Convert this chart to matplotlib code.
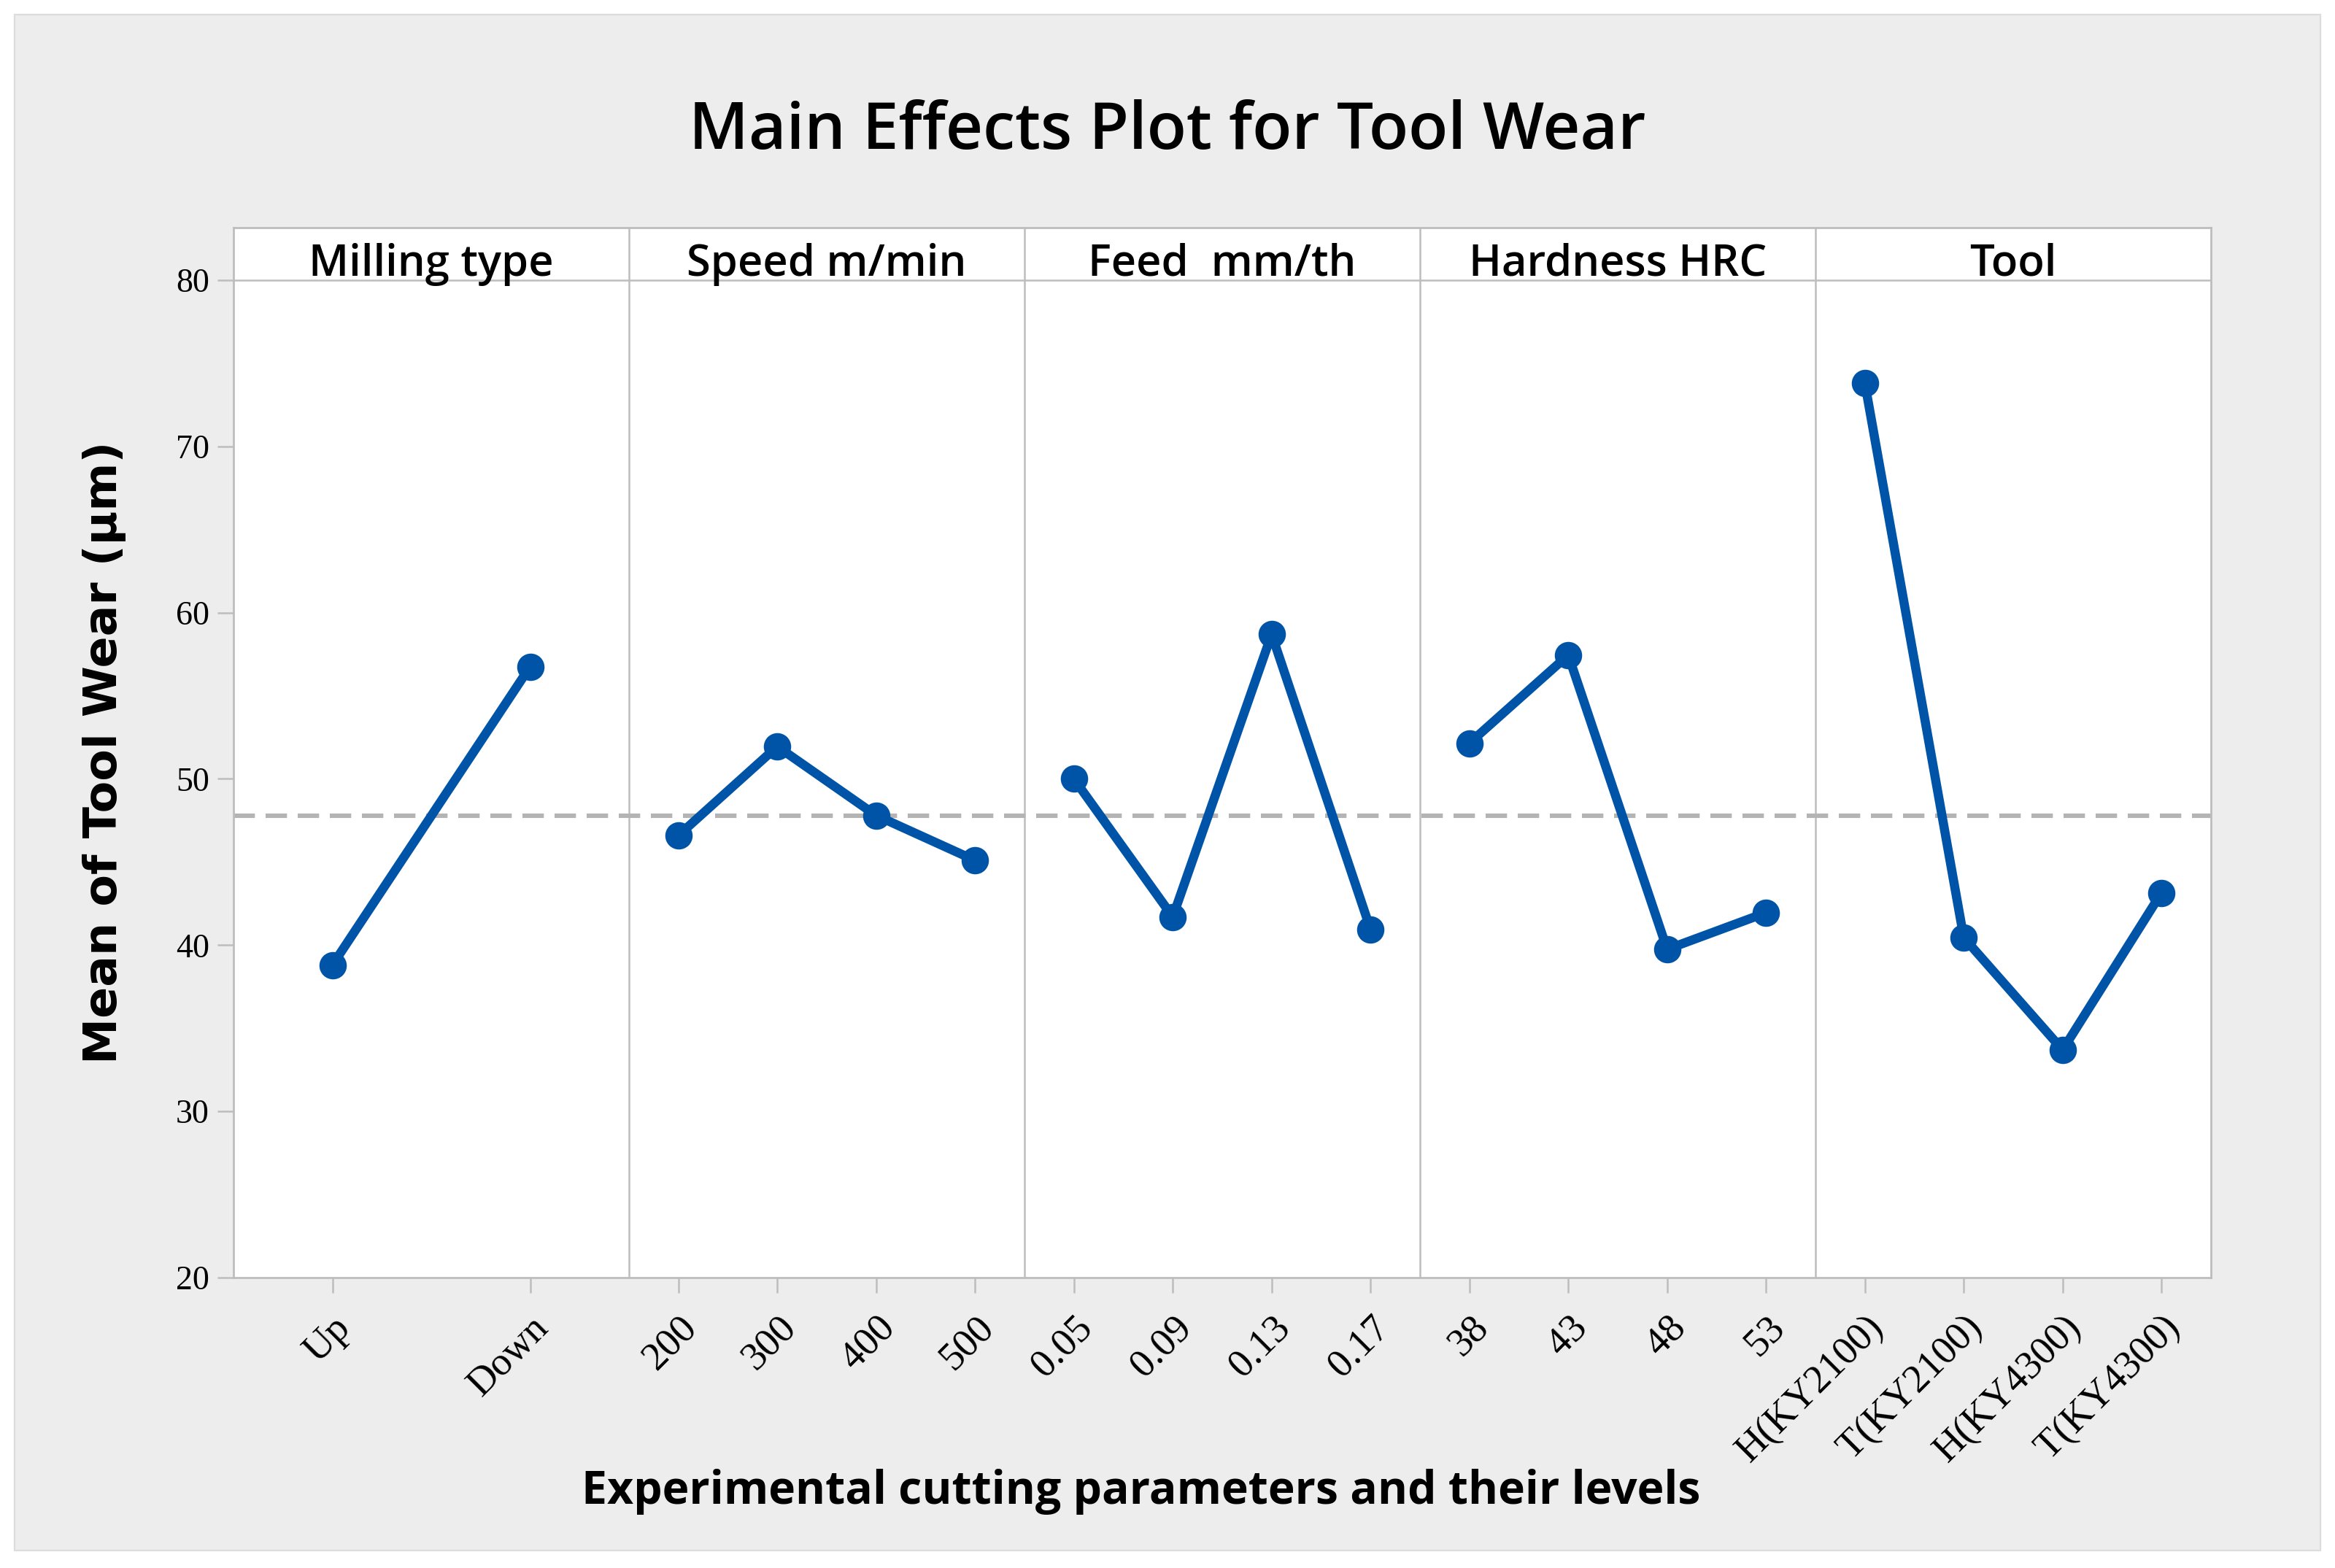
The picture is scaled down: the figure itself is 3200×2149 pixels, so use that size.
import matplotlib
matplotlib.use("Agg")
import matplotlib.pyplot as plt
from matplotlib.patches import Rectangle

# data
factors = ["Milling type", "Speed m/min", "Feed  mm/th", "Hardness HRC", "Tool"]
milling_levels = ["Up", "Down"]
milling_means = [38.8, 56.75]
speed_levels = ["200", "300", "400", "500"]
speed_means = [46.6, 51.95, 47.8, 45.1]
feed_levels = ["0.05", "0.09", "0.13", "0.17"]
feed_means = [50.0, 41.7, 58.7, 40.95]
hardness_levels = ["38", "43", "48", "53"]
hardness_means = [52.15, 57.45, 39.75, 41.95]
tool_levels = ["H(KY2100)", "T(KY2100)", "H(KY4300)", "T(KY4300)"]
tool_means = [73.8, 40.45, 33.7, 43.15]
grand_mean = 47.8

all_levels = [milling_levels, speed_levels, feed_levels, hardness_levels, tool_levels]
all_means = [milling_means, speed_means, feed_means, hardness_means, tool_means]

BLUE = "#0054A8"
GRID = "#BDBDBD"
BG = "#EDEDED"
SANS = ["Open Sans", "DejaVu Sans"]
SERIF = ["Liberation Serif", "DejaVu Serif"]

W, H = 3200, 2149
fig = plt.figure(figsize=(16, 10.745), dpi=200, facecolor="white")
fig.patches.append(Rectangle((20 / W, 1 - 2125 / H), 3160 / W, 2105 / H,
                             transform=fig.transFigure, facecolor=BG,
                             edgecolor="#DCDCDC", linewidth=0.8, zorder=-10))

ax = fig.add_axes([320 / W, 1 - 1751 / H, (3030 - 320) / W, (1751 - 312) / H])
ax.set_facecolor("white")

panel_w = 4.0
ticks, labels = [], []
for i, (lv, mv) in enumerate(zip(all_levels, all_means)):
    n = len(lv)
    xs = [i * panel_w + (panel_w / n) * (j + 0.5) for j in range(n)]
    ax.plot(xs, mv, color=BLUE, lw=4.5, marker="o", ms=12.5, zorder=5,
            solid_joinstyle="round")
    ticks += xs
    labels += lv
    ax.text(i * panel_w + panel_w / 2, 80.28, factors[i], ha="center", va="baseline",
            fontsize=21.5, family=SANS, weight="semibold", color="black")
    if i > 0:
        ax.axvline(i * panel_w, color=GRID, lw=0.9, zorder=1)

ax.axhline(80, color=GRID, lw=0.9, zorder=1)
ax.axhline(grand_mean, color="#B4B4B4", lw=2.2, ls=(0, (4.8, 2.4)), zorder=2)

ax.set_xlim(0, panel_w * len(factors))
ax.set_ylim(20, 83.16)
ax.set_yticks([20, 30, 40, 50, 60, 70, 80])
ax.set_xticks(ticks)
ax.set_xticklabels(labels, rotation=45, ha="right", rotation_mode="anchor")
for lab in ax.get_yticklabels():
    lab.set_family(SERIF)
    lab.set_fontsize(16.5)
for lab in ax.get_xticklabels():
    lab.set_family(SERIF)
    lab.set_fontsize(19.5)
ax.tick_params(axis="y", length=7.9, width=0.9, color=GRID, pad=4)
ax.tick_params(axis="x", length=7.5, width=0.9, color=GRID, pad=8)
for sp in ax.spines.values():
    sp.set_color(GRID)
    sp.set_linewidth(1.0)

fig.text(0.5, 1 - 204 / H, "Main Effects Plot for Tool Wear", ha="center", va="baseline",
         fontsize=32, family=SANS, weight="semibold")
fig.text(1564 / W, 1 - 2061 / H, "Experimental cutting parameters and their levels",
         ha="center", va="baseline", fontsize=22.5, family=SANS, weight="bold")
fig.text(143 / W, 1 - 1031 / H, "Mean of Tool Wear (µm)", rotation=90, ha="center",
         va="center", fontsize=22.8, family=["DejaVu Sans"], weight="bold")

fig.savefig("out.png", dpi=200, facecolor="white")
